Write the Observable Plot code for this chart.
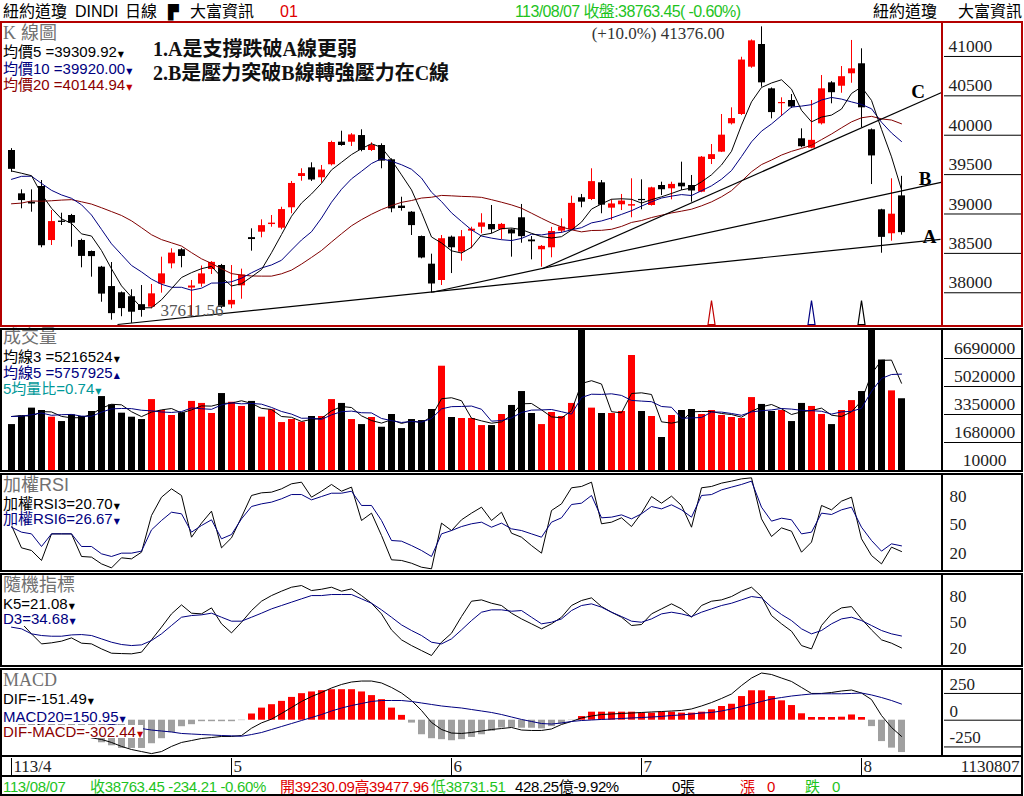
<!DOCTYPE html>
<html><head><meta charset="utf-8">
<script src="https://cdn.jsdelivr.net/npm/d3@7"></script>
<script src="https://cdn.jsdelivr.net/npm/@observablehq/plot@0.6"></script>
<style>
body{margin:0;background:#fff;}
#root{position:relative;width:1024px;height:796px;overflow:hidden;background:#fff;font-family:"Liberation Sans","Noto Sans CJK TC",sans-serif;}
.t{position:absolute;white-space:nowrap;line-height:14px;height:14px;font-size:15px;z-index:3;}
.lg{background:#fff;}
.ft{letter-spacing:-0.35px;}
.tri{font-family:"DejaVu Sans";font-size:8px;margin-left:1px;}
.box{position:absolute;box-sizing:border-box;border:2px solid #000;z-index:5;pointer-events:none;}
.vbar{position:absolute;width:2px;z-index:5;}
</style></head>
<body><div id="root"></div>
<script>
// ---------------- data ----------------
const opens = [39806, 39256, 39150, 39349, 38663, 38910, 38981, 38664, 38524, 38325,
  38079, 38000, 37950, 37849, 37817, 38110, 38367, 38546, 38060, 38110,
  38295, 38346, 37846, 38088, 38700, 38769, 38866, 38820, 39079, 39476,
  39586, 39460, 39625, 39912, 39911, 39996, 39806, 39870, 39688, 39100,
  39023, 38714, 38363, 38156, 38706, 38515, 38782, 38832, 38867, 38800,
  38800, 38952, 38670, 38546, 38571, 38782, 38799, 39206, 39184, 39396,
  39074, 39117, 39100, 39185, 39108, 39362, 39320, 39391, 39362, 39277,
  39692, 39785, 40145, 40263, 40864, 41152, 40589, 40400, 40441, 39955,
  39835, 40145, 40665, 40622, 40780, 40907, 40069, 39053, 38749, 39230.09];
const highs = [39830, 39307, 39307, 39425, 39044, 39010, 38995, 38680, 38530, 38335,
  38384, 38010, 38038, 38092, 38105, 38452, 38558, 38560, 38156, 38340,
  38396, 38360, 38346, 38300, 38812, 38926, 38981, 39086, 39413, 39574,
  39650, 39616, 39924, 40051, 40020, 40069, 39904, 39891, 39700, 39213,
  39030, 38720, 38490, 38727, 38720, 38790, 38832, 39003, 39108, 38880,
  38810, 39121, 38714, 38600, 38830, 38939, 39226, 39248, 39574, 39425,
  39180, 39248, 39447, 39434, 39340, 39404, 39404, 39658, 39489, 39730,
  39882, 40263, 40348, 40990, 41210, 41376, 40600, 40475, 40517, 40081,
  40441, 40758, 40680, 40872, 41203, 41097, 40080, 39060, 39447, 39477.96];
const lows = [39530, 39066, 39023, 38571, 38600, 38854, 38579, 38317, 38198, 37880,
  37652, 37696, 37611.56, 37690, 37797, 37995, 38304, 38317, 37690, 38071,
  38232, 37797, 37797, 37918, 38528, 38698, 38832, 38800, 39003, 39416,
  39413, 39391, 39610, 39860, 39857, 39790, 39793, 39574, 39016, 39036,
  38727, 38431, 37995, 38092, 38244, 38401, 38558, 38749, 38749, 38673,
  38452, 38629, 38418, 38325, 38444, 38756, 38790, 39079, 39170, 39003,
  38917, 39044, 38952, 39053, 39100, 39235, 39180, 39298, 39150, 39270,
  39628, 39780, 40130, 40250, 40850, 40610, 40208, 40238, 40340, 39840,
  39828, 40130, 40399, 40533, 40660, 40094, 39374, 38502, 38655, 38731.51];
const closes = [39566.85, 39170.24, 39127.14, 38596.98, 38904.04, 38892.80, 38883.67, 38461.51, 38459.08, 37983.24,
  37735.11, 37798.97, 37753.31, 37775.38, 37986.40, 38239.98, 38503.69, 38460.92, 38085.80, 38239.66,
  38386.09, 37815.92, 37903.29, 38225.66, 38675.68, 38852.27, 38884.26, 39056.39, 39387.76, 39512.84,
  39431.51, 39558.11, 39908.00, 39869.38, 40003.59, 39806.77, 39872.99, 39671.04, 39065.26, 39069.59,
  38852.86, 38441.54, 38111.48, 38686.32, 38571.03, 38711.29, 38807.33, 38886.17, 38798.99, 38868.04,
  38747.42, 38712.21, 38647.10, 38589.16, 38778.10, 38834.86, 39134.76, 39150.33, 39411.21, 39112.16,
  39127.80, 39164.06, 39118.86, 39169.52, 39331.85, 39308.00, 39375.87, 39344.79, 39291.97, 39721.36,
  39753.75, 40000.90, 40211.72, 40954.48, 41198.08, 40665.02, 40287.53, 40415.44, 40358.09, 39853.87,
  39935.07, 40589.34, 40539.93, 40743.33, 40842.79, 40347.97, 39737.26, 38703.27, 38997.66, 38763.45];
const volumes = [2750000, 3250000, 3730000, 3590000, 3190000, 2930000, 3330000, 3230000, 3530000, 4420000,
  3930000, 3430000, 3190000, 3050000, 4240000, 3590000, 3290000, 3450000, 4130000, 4010000,
  3410000, 4600000, 4080000, 3830000, 4130000, 3190000, 3630000, 2870000, 3050000, 2890000,
  3230000, 3230000, 4240000, 4010000, 3050000, 2750000, 3170000, 2590000, 3350000, 2510000,
  3050000, 2990000, 3650000, 6230000, 3170000, 3110000, 3110000, 2690000, 2690000, 3350000,
  3890000, 4720000, 3410000, 2750000, 3470000, 3230000, 4010000, 8360000, 3730000, 3410000,
  3410000, 3530000, 6870000, 3530000, 3230000, 1980000, 3290000, 3590000, 3650000, 3350000,
  3590000, 3290000, 3170000, 3110000, 4360000, 3950000, 3530000, 3590000, 2930000, 4010000,
  3830000, 3350000, 2750000, 3590000, 4180000, 4720000, 8420000, 6600000, 4760000, 4290000];
// closes / volumes of the sessions just before the visible window (feed the averages' start)
const priorCloses = [38989.83, 38585.19, 38661.05, 38791.35, 38722.69, 38769.66, 39005.49, 39043.32, 38905.66, 38714.77,
  38790.43, 39110.76, 39512.13, 39781.37, 39475.90, 39313.64, 39282.33, 39760.08, 39807.37];
const priorVolumes = [3150000, 3310000, 3070000, 3870000];

const rsi3 = [48.1, 24.6, 21.8, 11.3, 39.3, 39.3, 39.3, 15.5, 14.8, 7.7,
  3.5, 14.1, 13.0, 20.0, 58.6, 77.9, 86.7, 79.7, 35.8, 50.6,
  63.2, 24.6, 35.1, 56.9, 79.7, 82.5, 83.2, 86.7, 92.0, 93.7,
  77.9, 84.2, 91.3, 84.2, 88.5, 53.4, 61.1, 37.6, 12.0, 11.3,
  8.4, 4.2, 2.5, 50.6, 42.8, 54.1, 61.1, 67.4, 53.4, 62.1,
  40.0, 35.8, 27.0, 19.0, 63.9, 70.9, 87.8, 89.2, 93.7, 49.9,
  51.6, 56.2, 47.0, 61.1, 78.6, 71.6, 79.0, 69.2, 46.3, 87.8,
  89.2, 92.7, 94.8, 97.2, 98.3, 55.1, 36.5, 45.6, 42.1, 20.0,
  30.6, 69.2, 64.6, 73.7, 77.9, 34.1, 16.5, 7.7, 25.3, 20.70];
const rsi6 = [46.3, 41.1, 39.3, 26.0, 39.3, 39.3, 39.3, 26.0, 26.0, 18.3,
  15.5, 19.0, 19.0, 21.1, 43.5, 53.4, 62.1, 60.4, 41.1, 48.1,
  54.1, 34.1, 38.6, 55.1, 68.1, 70.9, 72.7, 76.2, 80.7, 80.7,
  75.1, 78.6, 82.1, 82.1, 84.2, 69.2, 69.2, 53.4, 32.3, 31.6,
  27.0, 21.8, 15.5, 39.3, 42.8, 47.0, 49.9, 51.6, 46.3, 50.6,
  44.6, 42.8, 39.3, 35.8, 51.6, 56.2, 70.2, 71.6, 79.7, 56.2,
  56.9, 59.3, 55.1, 60.4, 68.1, 65.6, 69.9, 64.6, 56.9, 79.7,
  80.7, 85.6, 88.5, 91.3, 94.8, 67.4, 52.7, 55.8, 54.1, 39.3,
  41.1, 61.1, 59.7, 64.6, 67.4, 46.3, 32.3, 21.1, 28.8, 26.67];
const kLine = [59.8, 49.2, 37.1, 25.7, 26.9, 28.8, 32.5, 26.5, 25.7, 20.0,
  15.1, 14.7, 14.4, 16.3, 30.3, 44.7, 59.8, 70.0, 60.6, 59.8,
  66.6, 48.5, 38.2, 50.3, 63.6, 74.2, 80.6, 85.6, 90.1, 92.0,
  86.3, 87.8, 90.1, 85.6, 88.2, 80.6, 71.9, 59.8, 41.6, 30.3,
  23.8, 18.1, 12.5, 27.6, 37.8, 56.8, 74.2, 75.7, 71.9, 69.3,
  60.6, 54.1, 48.5, 42.8, 48.5, 56.0, 69.3, 75.0, 78.0, 68.1,
  61.7, 56.0, 46.6, 47.7, 59.8, 65.5, 71.2, 65.5, 56.0, 69.3,
  74.2, 75.7, 79.5, 85.6, 90.1, 79.5, 57.9, 48.5, 40.1, 23.8,
  20.0, 46.6, 59.8, 66.6, 68.1, 54.1, 41.6, 30.3, 26.5, 21.08];
const dLine = [44.7, 42.8, 37.1, 35.2, 34.4, 34.4, 35.9, 36.3, 35.2, 31.4,
  27.6, 25.0, 23.8, 24.6, 29.5, 37.1, 46.6, 56.0, 57.9, 58.7,
  60.6, 56.0, 51.5, 51.5, 56.0, 60.6, 65.5, 69.3, 73.1, 76.9,
  80.6, 80.6, 81.8, 81.8, 81.8, 76.9, 71.9, 64.4, 56.0, 47.3,
  40.9, 35.2, 27.6, 25.7, 31.4, 41.6, 52.2, 61.7, 64.4, 64.4,
  62.8, 63.6, 56.0, 48.5, 50.3, 54.1, 63.6, 69.3, 71.2, 67.4,
  61.7, 56.8, 51.5, 50.3, 54.1, 59.8, 61.7, 59.8, 56.8, 61.7,
  65.5, 69.3, 71.9, 75.7, 79.5, 78.0, 67.4, 59.1, 52.2, 42.8,
  37.1, 40.9, 48.5, 54.1, 56.0, 52.2, 46.6, 40.9, 37.1, 34.68];
const difLine = [60, 25, -5, -55, -75, -95, -115, -140, -165, -180,
  -208, -245, -274, -293, -312, -293, -245, -208, -190, -171,
  -162, -152, -152, -143, -75, -25, 10, 63, 119, 175,
  221, 259, 301, 334, 357, 366, 366, 348, 306, 254,
  184, 91, -21, -87, -120, -124, -115, -101, -87, -78,
  -68, -92, -96, -96, -82, -40, -12, 21, 39, 53,
  58, 63, 67, 72, 77, 81, 86, 91, 105, 133,
  165, 203, 245, 324, 394, 441, 427, 394, 362, 306,
  250, 250, 259, 273, 282, 254, 193, 44, -68, -151.49];
const macdLine = [70, 62, 54, 44, 33, 22, 10, -2, -15, -28,
  -40, -52, -68, -78, -92, -101, -110, -124, -129, -134,
  -138, -143, -146, -150, -134, -115, -87, -59, -31, -3,
  25, 53, 86, 114, 137, 156, 175, 184, 184, 184,
  175, 161, 147, 133, 123, 114, 100, 86, 72, 53,
  30, 7, -12, -31, -36, -26, -12, -3, 2, 7,
  11, 16, 21, 25, 30, 35, 44, 49, 58, 67,
  72, 86, 105, 128, 151, 175, 198, 212, 226, 236,
  245, 247, 247, 247, 250, 254, 236, 212, 184, 150.95];
const histBars = [-40, -55, -70, -85, -100, -110, -120, -130, -145, -211,
  -239, -264, -264, -264, -220, -173, -117, -61, -42, -14,
  -14, -14, -14, -4, 58, 113, 145, 176, 213, 248,
  264, 276, 285, 285, 285, 264, 230, 192, 113, 45,
  -27, -136, -173, -182, -192, -182, -161, -136, -104, -73,
  -70, -75, -75, -81, -60, -37, -3, 34, 75, 75,
  75, 75, 75, 66, 66, 75, 75, 66, 66, 75,
  97, 128, 149, 221, 275, 275, 221, 181, 137, 60,
  25, 25, 25, 28, 49, 25, -60, -200, -261, -302.44];

const priceTicks = [38000, 38500, 39000, 39500, 40000, 40500, 41000];
const volumeTicks = [10000, 1680000, 3350000, 5020000, 6690000];
const oscTicks = [20, 50, 80];
const macdTicks = [-250, 0, 250];
const monthStartIdx = [0, 22, 44, 63, 85];
const monthLabels = ["113/4", "5", "6", "7", "8"];
const trendNames = ["A", "B", "C"];
const trendStartIdx = [10.6, 42.07, 53.07];
const trendStartPrice = [37597, 38007, 38304];
const trendEndIdx = [92.9, 93.07, 93.07];
const trendEndPrice = [38679, 39404, 40546];
const trendLabelIdx = [91.8, 91.35, 90.65];
const trendLabelPrice = [38708, 39444, 40549];
const signalIdx = [70, 80, 85];
const signalColors = ["#c00000", "#000080", "#000000"];

// ---------------- tables ----------------
const RED = "#ff0000", NAVY = "#000080", MAROON = "#800000", GRAY = "#a0a0a0";
const candles = closes.map((c, i) => ({i, open: opens[i], high: highs[i], low: lows[i], close: c, vol: volumes[i],
  col: c > opens[i] ? RED : "#000000"}));
const maTable = priorCloses.map(c => ({xi: NaN, close: c})).concat(candles.map(d => ({xi: d.i, close: d.close})));
const volTable = priorVolumes.map(v => ({xi: NaN, vol: v})).concat(candles.map(d => ({xi: d.i, vol: d.vol})));
const osc = closes.map((c, i) => ({i, rsi3: rsi3[i], rsi6: rsi6[i], k: kLine[i], d: dLine[i], dif: difLine[i], macd: macdLine[i], hist: histBars[i],
  hcol: histBars[i] >= 0 ? RED : GRAY}));
const trends = trendNames.map((n, k) => ({name: n, x1: trendStartIdx[k], y1: trendStartPrice[k], x2: trendEndIdx[k], y2: trendEndPrice[k],
  lx: trendLabelIdx[k], ly: trendLabelPrice[k]}));
const signals = signalIdx.map((i, k) => ({i, col: signalColors[k]}));
const months = monthStartIdx.map((i, k) => ({i, label: monthLabels[k]}));
const hiIdx = d3.maxIndex(highs), loIdx = d3.minIndex(lows);

const root = document.getElementById("root");
function place(svg, top) {
  svg.style.position = "absolute"; svg.style.left = "0px"; svg.style.top = top + "px"; svg.style.zIndex = 1;
  root.appendChild(svg);
}
const base = {width: 1024, marginLeft: 0, marginRight: 81, marginTop: 0, marginBottom: 0,
  x: {domain: [-1.1, 93.2], axis: null}, color: {type: "identity"},
  style: {background: "transparent", fontFamily: "Liberation Serif", overflow: "visible"}};
const serif = "Liberation Serif";
const spike = {draw(ctx) { ctx.moveTo(-3.5, 0); ctx.lineTo(0, -24); ctx.lineTo(3.5, 0); ctx.closePath(); }};

function tickAxis(ticks, size) {
  return Plot.axisY(ticks, {anchor: "right", tickSize: size, fill: "none", stroke: "#000", label: null});
}
function textAxis(ticks, opts) {
  return Plot.axisY(ticks, {anchor: "right", tickSize: 0, textAnchor: "start", fill: "#222", fontFamily: serif,
    fontSize: 17, tickFormat: d => String(d), label: null, ...opts});
}

// K panel
place(Plot.plot({...base, height: 304, y: {domain: [37571.8, 41431.1]}, marks: [
  Plot.ruleX(candles, {x: "i", y1: "low", y2: "high", stroke: "col", strokeWidth: 1}),
  Plot.ruleX(candles, {x: "i", y1: "open", y2: "close", stroke: "col", strokeWidth: 7}),
  Plot.line(maTable, Plot.windowY({k: 20, anchor: "end"}, {x: "xi", y: "close", stroke: MAROON, strokeWidth: 1})),
  Plot.line(maTable, Plot.windowY({k: 10, anchor: "end"}, {x: "xi", y: "close", stroke: NAVY, strokeWidth: 1})),
  Plot.line(maTable, Plot.windowY({k: 5, anchor: "end"}, {x: "xi", y: "close", stroke: "#000", strokeWidth: 1})),
  Plot.link(trends, {x1: "x1", y1: "y1", x2: "x2", y2: "y2", stroke: "#000", strokeWidth: 1.2, clip: true}),
  Plot.text(trends, {x: "lx", y: "ly", text: "name", fontFamily: serif, fontSize: 19, fontWeight: "bold", fill: "#000"}),
  Plot.dot(signals, {x: "i", frameAnchor: "bottom", dy: -2, symbol: spike, stroke: "col", fill: "none", strokeWidth: 1.2}),
  Plot.text([hiIdx], {x: d => d, y: d => highs[d], text: d => `(+10.0%) ${highs[d].toFixed(2)}`, textAnchor: "end",
    dx: -37, dy: 7, fontFamily: serif, fontSize: 17, fill: "#333"}),
  Plot.text([loIdx], {x: d => d, y: d => lows[d], text: d => lows[d].toFixed(2), textAnchor: "start",
    dx: 29, dy: -13, fontFamily: serif, fontSize: 17, fill: "#555"}),
  tickAxis(priceTicks, 79),
  textAxis(priceTicks, {tickPadding: 5, dy: -10, fontSize: 17.5})
]}), 22);

// Volume panel
place(Plot.plot({...base, height: 143, y: {domain: [-49645, 8479521]}, marks: [
  Plot.ruleX(candles, {x: "i", y1: 0, y2: "vol", stroke: "col", strokeWidth: 7}),
  Plot.line(volTable, Plot.windowY({k: 3, anchor: "end"}, {x: "xi", y: "vol", stroke: "#000", strokeWidth: 1})),
  Plot.line(volTable, Plot.windowY({k: 5, anchor: "end"}, {x: "xi", y: "vol", stroke: NAVY, strokeWidth: 1})),
  tickAxis(volumeTicks, 79),
  textAxis(volumeTicks, {tickPadding: 41, textAnchor: "middle", dy: -10, fontSize: 17.5})
]}), 328);

// RSI panel
place(Plot.plot({...base, height: 98, y: {domain: [-1.37, 101.79]}, marks: [
  Plot.line(osc, {x: "i", y: "rsi3", stroke: "#000", strokeWidth: 1}),
  Plot.line(osc, {x: "i", y: "rsi6", stroke: NAVY, strokeWidth: 1}),
  textAxis(oscTicks, {tickPadding: 6, dy: 1})
]}), 474);

// KD panel
place(Plot.plot({...base, height: 93, y: {domain: [-1.136, 104.55]}, marks: [
  Plot.line(osc, {x: "i", y: "k", stroke: "#000", strokeWidth: 1}),
  Plot.line(osc, {x: "i", y: "d", stroke: NAVY, strokeWidth: 1}),
  textAxis(oscTicks, {tickPadding: 6, dy: 0})
]}), 574);

// MACD panel
place(Plot.plot({...base, height: 87, y: {domain: [-339.25, 473.83]}, marks: [
  Plot.ruleX(osc, {x: "i", y1: 0, y2: "hist", stroke: "hcol", strokeWidth: 7}),
  Plot.line(osc, {x: "i", y: "dif", stroke: "#000", strokeWidth: 1}),
  Plot.line(osc, {x: "i", y: "macd", stroke: NAVY, strokeWidth: 1}),
  tickAxis(macdTicks, 79),
  textAxis(macdTicks, {tickPadding: 6, dy: -9})
]}), 669);

// date axis row
place(Plot.plot({...base, height: 20, marginTop: 1, marginBottom: 2, y: {domain: [0, 1], axis: null}, marks: [
  Plot.ruleX(months, {x: "i", stroke: "#000"}),
  Plot.text(months, {x: "i", text: "label", textAnchor: "start", dx: 2, fontFamily: serif, fontSize: 17, fill: "#222"}),
  Plot.text(["1130807"], {text: d => d, frameAnchor: "right", textAnchor: "end", dx: 76, fontFamily: serif, fontSize: 17, fill: "#222"})
]}), 757);

// ---------------- frames ----------------
function box(left, top, w, h, color) {
  const b = document.createElement("div"); b.className = "box";
  Object.assign(b.style, {left: left + "px", top: top + "px", width: w + "px", height: h + "px", borderColor: color});
  root.appendChild(b);
}
function vbar(left, top, h, color) {
  const b = document.createElement("div"); b.className = "vbar";
  Object.assign(b.style, {left: left + "px", top: top + "px", height: h + "px", background: color});
  root.appendChild(b);
}
const DR = "#b40000";
box(0, 21, 1023, 306, DR); vbar(941, 21, 306, DR);
box(0, 328, 1023, 144, "#000"); vbar(941, 328, 144, "#000");
box(0, 473, 1023, 99, "#000"); vbar(941, 473, 99, "#000");
box(0, 573, 1023, 94, "#000"); vbar(941, 573, 94, "#000");
box(0, 668, 1023, 89, "#000"); vbar(941, 668, 89, "#000");
box(0, 755, 1023, 22, "#000");
box(0, 775, 1023, 21, "#000");

// ---------------- texts ----------------
function txt(html, left, cy, style, cls) {
  const el = document.createElement("div"); el.className = "t" + (cls ? " " + cls : "");
  el.innerHTML = html; el.style.left = left + "px"; el.style.top = (cy - 7) + "px";
  Object.assign(el.style, style || {}); root.appendChild(el);
  return el;
}
const tri = (c, up) => `<span class="tri" style="color:${c}">${up ? "▲" : "▼"}</span>`;
const GREEN = "#1ec31e";
// header
txt("紐約道瓊", 3, 11.5, {fontSize: "16px"});
txt("DINDI", 75, 11.5, {fontSize: "16px"});
txt("日線", 125, 11.5, {fontSize: "16px"});
txt("▛", 168, 11.5, {fontSize: "14px", fontFamily: "DejaVu Sans"});
txt("大富資訊", 190, 11.5, {fontSize: "16px"});
txt("01", 280, 11.5, {fontSize: "16px", color: "#e00000"});
txt("113/08/07 收盤:38763.45( -0.60%)", 515, 11.5, {fontSize: "16px", color: GREEN, letterSpacing: "-0.6px"});
txt("紐約道瓊", 873, 11.5, {fontSize: "16px"});
txt("大富資訊", 958, 11.5, {fontSize: "16px"});

// K panel legend
txt("<span style='font-family:Liberation Serif'>K</span> 線圖", 3, 32.5, {fontSize: "18px", color: "#707070"});
txt("均價5 =39309.92" + tri("#000"), 3, 51.5, {color: "#000"}, "lg");
txt("均價10 =39920.00" + tri(NAVY), 3, 68.5, {color: NAVY}, "lg");
txt("均價20 =40144.94" + tri("#c00000"), 3, 85, {color: "#8b0000"}, "lg");
const noteStyle = {fontSize: "20px", fontWeight: "bold", fontFamily: "'Liberation Serif','Noto Sans CJK TC'", color: "#111", lineHeight: "22px", height: "22px"};
txt("1.A是支撐跌破A線更弱", 153, 45, noteStyle);
txt("2.B是壓力突破B線轉強壓力在C線", 153, 69, noteStyle);

// volume legend
txt("成交量", 3, 336.5, {fontSize: "18px", color: "#707070"});
txt("均線3 =5216524" + tri("#000"), 3, 356.5, {color: "#000"}, "lg");
txt("均線5 =5757925" + tri(NAVY, true), 3, 372.5, {color: NAVY}, "lg");
txt("5均量比=0.74" + tri("#009999"), 3, 388.5, {color: "#009999"}, "lg");

// RSI legend
txt("加權RSI", 3, 484.5, {fontSize: "18px", color: "#707070"});
txt("加權RSI3=20.70" + tri("#000"), 3, 504, {color: "#000"}, "lg");
txt("加權RSI6=26.67" + tri(NAVY), 3, 519, {color: NAVY}, "lg");

// KD legend
txt("隨機指標", 3, 585, {fontSize: "18px", color: "#707070"});
txt("K5=21.08" + tri("#000"), 3, 604, {color: "#000"}, "lg");
txt("D3=34.68" + tri(NAVY), 3, 619, {color: NAVY}, "lg");

// MACD legend
txt("MACD", 3, 680, {fontSize: "18px", color: "#707070", fontFamily: "Liberation Serif"});
txt("DIF=-151.49" + tri("#000"), 3, 699, {color: "#000"}, "lg");
txt("MACD20=150.95" + tri(NAVY), 3, 716.5, {color: NAVY}, "lg");
txt("DIF-MACD=-302.44" + tri("#c00000"), 3, 731.5, {color: "#8b0000", height: "13px"}, "lg");

// footer
txt("113/08/07", 3, 786.5, {color: GREEN}, "ft");
txt("收38763.45 -234.21 -0.60%", 90, 786.5, {color: GREEN}, "ft");
txt("開39230.09高39477.96", 280, 786.5, {color: "#e00000"}, "ft");
txt("低38731.51", 431, 786.5, {color: GREEN}, "ft");
txt("428.25億-9.92%", 515, 786.5, {color: "#000"}, "ft");
txt("0張", 672, 786.5, {color: "#000"}, "ft");
txt("漲", 740, 786.5, {color: "#e00000"}, "ft");
txt("0", 767, 786.5, {color: "#e00000"}, "ft");
txt("跌", 805, 786.5, {color: GREEN}, "ft");
txt("0", 832, 786.5, {color: GREEN}, "ft");
</script></body></html>
